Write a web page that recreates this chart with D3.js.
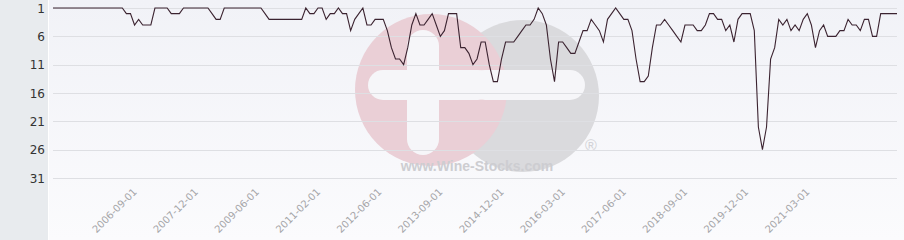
<!DOCTYPE html>
<html lang="en">
<head>
<meta charset="UTF-8">
<title>Rank history</title>
<script src="https://d3js.org/d3.v7.min.js"></script>
<style>
  body { margin: 0; background: #fff; }
  .axis text { font-family: "DejaVu Sans", sans-serif; }
  .grid { stroke: #dedfe3; stroke-width: 1px; }
  .rank-line { fill: none; stroke: #3b2330; stroke-width: 1.1px; }
</style>
</head>
<body>
<svg id="chart" width="904" height="240"></svg>
<script>
// monthly rank, oldest first
const ranks = [
  1,1,1,1,1,1,1,1,1,1, 1,1,1,1,1,1,1,1,2,2,
  4,3,4,4,4,1,1,1,1,2, 2,2,1,1,1,1,1,1,1,2,
  3,3,1,1,1,1,1,1,1,1, 1,1,2,3,3,3,3,3,3,3,
  3,3,1,2,2,1,1,3,2,2, 1,2,2,5,3,2,1,4,4,3,
  3,3,5,8,10,10,11,8,4,2, 4,4,3,2,4,6,5,2,2,2,
  8,8,9,11,10,7,7,11,14,14, 10,7,7,7,6,5,4,4,3,1,
  2,4,10,14,7,7,8,9,9,7, 5,5,3,4,5,7,3,2,1,2,
  3,3,5,10,14,14,13,8,4,4, 3,4,5,6,7,4,4,4,5,5,
  4,2,2,3,3,5,4,7,3,2, 2,2,5,22,26,22,10,8,3,4,
  3,5,4,5,3,2,4,8,5,4, 6,6,6,5,5,3,4,4,5,3,
  3,6,6,2,2,2,2,2
];
const yTicks = [1, 6, 11, 16, 21, 26, 31];
const tickLabels = ["2006-09-01", "2007-12-01", "2009-06-01", "2011-02-01", "2012-06-01", "2013-09-01",
                    "2014-12-01", "2016-03-01", "2017-06-01", "2018-09-01", "2019-12-01", "2021-03-01"];
const firstLabelIndex = 20, labelEvery = 15;

const width = 904, height = 240;
const svg = d3.select("#chart");

const x = d3.scaleLinear().domain([0, ranks.length - 1]).range([53, 897]);
const y = d3.scaleLinear().domain([1, 31]).range([8, 178]);

// backgrounds
const defs = svg.append("defs");
const grad = defs.append("linearGradient").attr("id", "bg").attr("x1", 0).attr("y1", 0).attr("x2", 0).attr("y2", 1);
grad.append("stop").attr("offset", "0%").attr("stop-color", "#f1f2f7");
grad.append("stop").attr("offset", "100%").attr("stop-color", "#fbfbfd");
svg.append("rect").attr("x", 49).attr("y", 0).attr("width", width - 49).attr("height", height).attr("fill", "url(#bg)");
svg.append("rect").attr("x", 0).attr("y", 0).attr("width", 48).attr("height", height).attr("fill", "#e8ebee");

// watermark
const wm = svg.append("g");
wm.append("circle").attr("cx", 523).attr("cy", 96).attr("r", 76).attr("fill", "#dadadd");
wm.append("circle").attr("cx", 431).attr("cy", 90).attr("r", 76).attr("fill", "#eacfd6");
wm.append("rect").attr("x", 407).attr("y", 30).attr("width", 32).attr("height", 125).attr("rx", 16).attr("fill", "#f6f6f9");
wm.append("rect").attr("x", 368).attr("y", 70).attr("width", 125).attr("height", 30).attr("rx", 15).attr("fill", "#f6f6f9");
wm.append("rect").attr("x", 470).attr("y", 70).attr("width", 115).attr("height", 30).attr("rx", 15).attr("fill", "#f6f6f9");
wm.append("text").attr("x", 477).attr("y", 171).attr("text-anchor", "middle")
  .attr("font-family", "Liberation Sans, sans-serif").attr("font-weight", "bold").attr("font-size", 14)
  .attr("fill", "#cdcdd1").text("www.Wine-Stocks.com");
wm.append("text").attr("x", 591).attr("y", 151).attr("text-anchor", "middle")
  .attr("font-family", "Liberation Sans, sans-serif").attr("font-size", 16)
  .attr("fill", "#d2d2d6").text("®");

// grid lines
svg.append("g").selectAll("line").data(yTicks).enter().append("line")
  .attr("class", "grid")
  .attr("x1", 53).attr("x2", 897)
  .attr("y1", d => Math.round(y(d)) + 0.5).attr("y2", d => Math.round(y(d)) + 0.5);

// y axis
const yAxis = svg.append("g").attr("class", "axis")
  .attr("transform", "translate(45,0)")
  .call(d3.axisLeft(y).tickValues(yTicks).tickSize(0).tickPadding(0));
yAxis.select(".domain").remove();
yAxis.selectAll("text").attr("font-size", 12).attr("fill", "#333").attr("dy", "0.35em");

// x axis labels
const tickIdx = tickLabels.map((t, i) => firstLabelIndex + i * labelEvery);
const xAxis = svg.append("g").attr("class", "axis")
  .attr("transform", "translate(0,190)")
  .call(d3.axisBottom(x).tickValues(tickIdx).tickSize(0).tickFormat((d, i) => tickLabels[i]));
xAxis.select(".domain").remove();
xAxis.selectAll("text")
  .attr("font-size", 10).attr("fill", "#a5a5a8")
  .attr("text-anchor", "end")
  .attr("dy", "0.35em").attr("y", 0)
  .attr("transform", "rotate(-45)");

// rank line
const line = d3.line().x((d, i) => x(i)).y(d => y(d));
svg.append("path").datum(ranks).attr("class", "rank-line").attr("d", line);
</script>
</body>
</html>
